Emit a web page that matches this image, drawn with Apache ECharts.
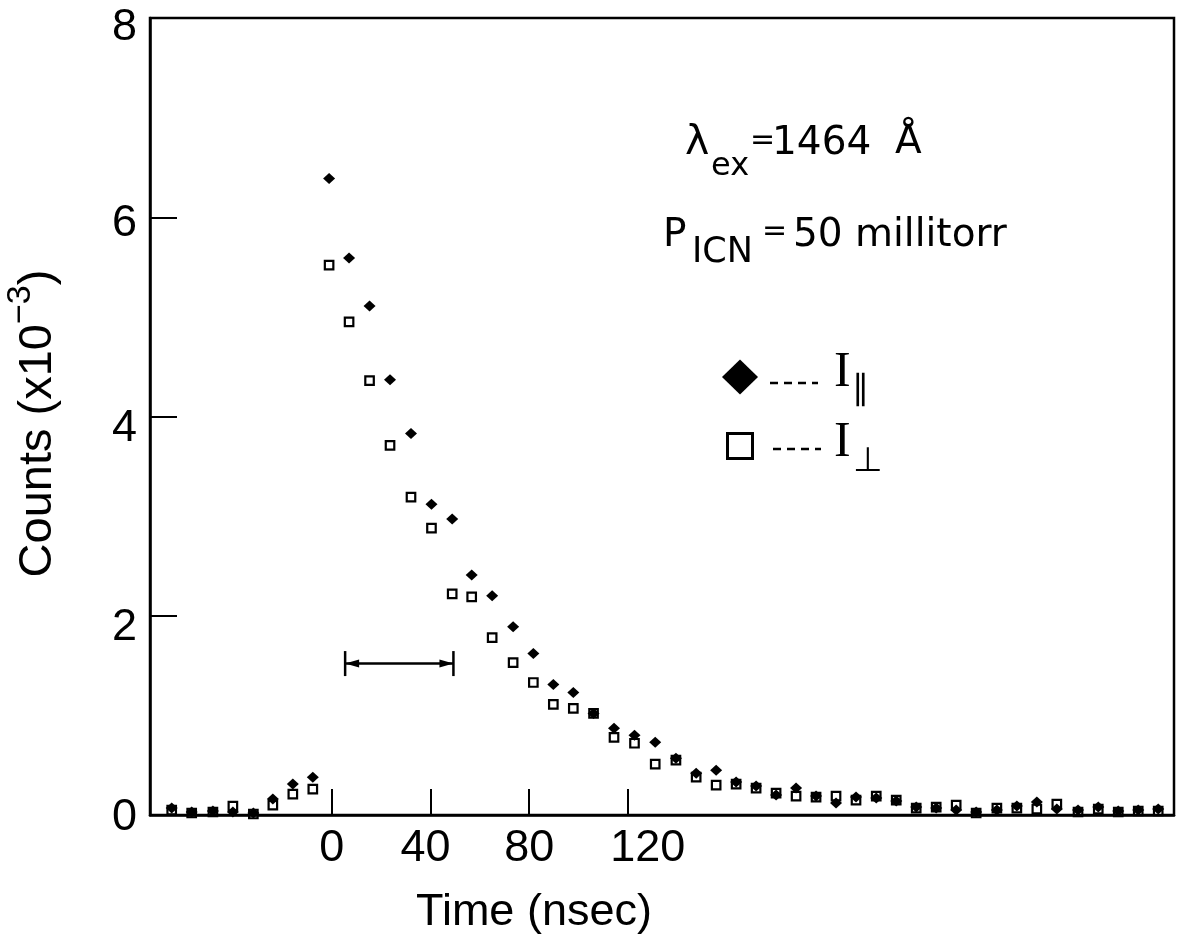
<!DOCTYPE html>
<html>
<head>
<meta charset="utf-8">
<script src="https://cdn.jsdelivr.net/npm/echarts@6/dist/echarts.min.js"></script>
<style>
html,body{margin:0;padding:0;background:#ffffff;}
#chart{width:1179px;height:940px;}
</style>
</head>
<body>
<div id="chart"></div>
<script>
// ---- data ----
const timeNs = [-64.9,-56.8,-48.2,-40.1,-31.8,-23.9,-15.8,-7.7,-1.1,7.0,15.3,23.6,32.1,40.4,48.8,56.7,65.0,73.5,81.7,89.8,97.9,106.1,114.4,122.7,131.1,139.5,147.7,155.8,163.9,172.0,180.1,188.2,196.3,204.4,212.5,220.7,228.8,236.9,245.0,253.1,261.2,269.6,277.7,285.8,293.9,302.5,310.7,318.8,326.9,335.0];
const iParallel = [0.07,0.03,0.04,0.03,0.02,0.16,0.31,0.38,6.39,5.59,5.11,4.37,3.83,3.12,2.97,2.41,2.20,1.89,1.62,1.31,1.23,1.02,0.87,0.80,0.73,0.57,0.42,0.45,0.33,0.29,0.20,0.27,0.19,0.12,0.18,0.17,0.14,0.08,0.07,0.05,0.03,0.05,0.09,0.13,0.06,0.05,0.08,0.04,0.05,0.06];
const iPerpendicular = [0.05,0.02,0.03,0.09,0.01,0.10,0.21,0.26,5.52,4.95,4.36,3.71,3.19,2.88,2.22,2.19,1.78,1.53,1.33,1.11,1.07,1.02,0.78,0.72,0.51,0.55,0.38,0.30,0.31,0.27,0.22,0.19,0.18,0.19,0.15,0.19,0.15,0.07,0.08,0.10,0.02,0.07,0.07,0.06,0.11,0.03,0.06,0.03,0.04,0.04];
const xTickValues = [0, 40, 80, 120];
const yTickLabels = [0, 2, 4, 6, 8];
// instrument resolution bar: [start ns, end ns, height]
const resolutionBar = [[5.4, 49.3, 1.52]];

// ---- build ----
const parData = timeNs.map((t, i) => [t, iParallel[i]]);
const perpData = timeNs.map((t, i) => [t, iPerpendicular[i]]);

const SANS = '"Liberation Sans", Arial, sans-serif';
const DJV = '"DejaVu Sans", sans-serif';
const SERIF = '"Liberation Serif", "DejaVu Serif", serif';

const yLabelShift = {0: 3, 2: 12, 4: 12, 6: 6, 8: 10};
const yRich = {};
yTickLabels.forEach(v => {
  yRich['o' + v] = {fontSize: 45, fontFamily: SANS, color: '#000', padding: [2 * yLabelShift[v], 0, 0, 0]};
});
const xRich = {
  n: {fontSize: 45, fontFamily: SANS, color: '#000'},
  l: {fontSize: 45, fontFamily: SANS, color: '#000', padding: [0, 10, 0, 0]},
  r: {fontSize: 45, fontFamily: SANS, color: '#000', padding: [0, 0, 0, 40]}
};

function txt(str, x, y, size, family, align) {
  return {
    type: 'text', x: x, y: y, silent: true,
    style: {
      text: str, font: size + 'px ' + family, fill: '#000',
      align: align || 'left', verticalAlign: 'middle',
      textAlign: align || 'left', textVerticalAlign: 'middle'
    }
  };
}

const chart = echarts.init(document.getElementById('chart'), null, {renderer: 'canvas'});
chart.setOption({
  animation: false,
  backgroundColor: '#ffffff',
  grid: {
    left: 150, right: 5, top: 18, bottom: 125,
    show: true, borderColor: '#000', borderWidth: 2.5,
    containLabel: false, outerBoundsMode: 'none'
  },
  xAxis: {
    type: 'value', min: -73.7, max: 341.4,
    axisLine: {show: true, onZero: false, lineStyle: {color: '#000', width: 2.5}},
    axisTick: {show: true, inside: true, length: 26, customValues: xTickValues, lineStyle: {color: '#000', width: 2}},
    axisLabel: {
      customValues: xTickValues, margin: 11, color: '#000', fontSize: 45, fontFamily: SANS,
      formatter: v => v === 120 ? '{r|' + v + '}' : (v === 40 ? '{l|' + v + '}' : '{n|' + v + '}'),
      rich: xRich
    },
    splitLine: {show: false},
    name: 'Time (nsec)', nameLocation: 'middle', nameGap: 75,
    nameTextStyle: {fontSize: 45, fontFamily: SANS, color: '#000', padding: [0, 256, 0, 0]}
  },
  yAxis: {
    type: 'value', min: 0, max: 8, interval: 2,
    axisLine: {show: true, onZero: false, lineStyle: {color: '#000', width: 2.5}},
    axisTick: {show: true, inside: true, length: 27, lineStyle: {color: '#000', width: 2}},
    axisLabel: {
      margin: 13, color: '#000', fontSize: 45, fontFamily: SANS,
      formatter: v => '{o' + v + '|' + v + '}', rich: yRich
    },
    splitLine: {show: false},
    name: '{a|Counts (x10}{s|\u22123}{a|)}', nameLocation: 'middle', nameGap: 88, nameRotate: 90,
    nameTextStyle: {
      color: '#000', padding: [0, 14, 0, 0],
      rich: {
        a: {fontSize: 47, fontFamily: SANS, color: '#000', verticalAlign: 'bottom'},
        s: {fontSize: 34, fontFamily: SANS, color: '#000', verticalAlign: 'bottom', padding: [0, 0, 24, 0]}
      }
    }
  },
  series: [
    {
      name: 'I\u2225', type: 'scatter', data: parData,
      symbol: 'diamond', symbolSize: [12, 11],
      itemStyle: {color: '#000', opacity: 1}, z: 3
    },
    {
      name: 'I\u22A5', type: 'scatter', data: perpData,
      symbol: 'rect', symbolSize: 8.5,
      itemStyle: {color: 'rgba(255,255,255,0)', borderColor: '#000', borderWidth: 2.2, opacity: 1}, z: 3
    },
    {
      name: 'resolution', type: 'custom', data: resolutionBar,
      encode: {x: [0, 1], y: 2},
      renderItem: function (params, api) {
        const p1 = api.coord([api.value(0), api.value(2)]);
        const p2 = api.coord([api.value(1), api.value(2)]);
        const cap = 12.5, ah = 14, aw = 4;
        const st = {stroke: '#000', lineWidth: 2.5};
        return {
          type: 'group',
          children: [
            {type: 'line', shape: {x1: p1[0], y1: p1[1], x2: p2[0], y2: p2[1]}, style: st},
            {type: 'line', shape: {x1: p1[0], y1: p1[1] - cap, x2: p1[0], y2: p1[1] + cap}, style: st},
            {type: 'line', shape: {x1: p2[0], y1: p2[1] - cap, x2: p2[0], y2: p2[1] + cap}, style: st},
            {type: 'polygon', shape: {points: [[p1[0], p1[1]], [p1[0] + ah, p1[1] - aw], [p1[0] + ah, p1[1] + aw]]}, style: {fill: '#000'}},
            {type: 'polygon', shape: {points: [[p2[0], p2[1]], [p2[0] - ah, p2[1] - aw], [p2[0] - ah, p2[1] + aw]]}, style: {fill: '#000'}}
          ]
        };
      },
      z: 2
    }
  ],
  graphic: [
    // lambda_ex = 1464 Å
    txt('\u03BB', 685, 143, 41, DJV),
    txt('ex', 711, 167, 32, DJV),
    txt('=', 750, 141, 30, DJV),
    txt('1464', 772, 144, 39, DJV),
    txt('\u00C5', 895, 143, 39, DJV),
    // P_ICN = 50 millitorr
    txt('P', 663, 236, 39, DJV),
    txt('ICN', 692, 253, 35, DJV),
    txt('=', 762, 232, 30, DJV),
    txt('50 millitorr', 793, 236, 39, DJV),
    // legend
    {type: 'polygon', silent: true, shape: {points: [[722, 377], [740, 359.5], [758, 377], [740, 394.5]]}, style: {fill: '#000'}},
    {type: 'line', silent: true, shape: {x1: 770, y1: 383, x2: 818, y2: 383}, style: {stroke: '#000', lineWidth: 2.5, lineDash: [8, 6]}},
    txt('I', 834, 373, 50, SERIF),
    txt('\u2225', 852, 390, 34, DJV),
    {type: 'rect', silent: true, shape: {x: 727.5, y: 433.5, width: 25, height: 25}, style: {fill: 'none', stroke: '#000', lineWidth: 3}},
    {type: 'line', silent: true, shape: {x1: 773, y1: 449, x2: 821, y2: 449}, style: {stroke: '#000', lineWidth: 2.5, lineDash: [8, 6]}},
    txt('I', 834, 443, 50, SERIF),
    txt('\u22A5', 853, 462, 34, DJV)
  ]
});
</script>
</body>
</html>
